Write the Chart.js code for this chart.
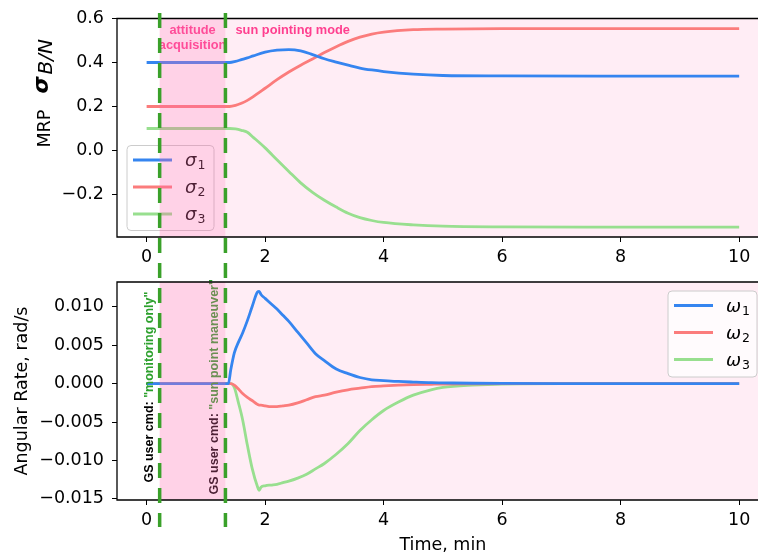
<!DOCTYPE html>
<html><head><meta charset="utf-8">
<script src="https://cdn.jsdelivr.net/npm/chart.js@4/dist/chart.umd.min.js"></script>
<style>
html,body{margin:0;padding:0;background:#fff;width:758px;height:558px;overflow:hidden}
canvas{position:absolute;left:0;top:0}
#c1{z-index:1}#c2{z-index:2}
</style></head><body>
<canvas id="c1" width="758" height="558"></canvas>
<canvas id="c2" width="758" height="558"></canvas>
<script>
// ---------- data ----------
const timeTop = [0, 1.4, 1.5, 1.6, 1.7, 1.8, 2.0, 2.2, 2.4, 2.6, 2.8, 3.0, 3.2, 3.4, 3.6, 3.8, 4.0, 4.5, 5.0, 6.0, 8.0, 10.0];
const sigma1 = [0.4, 0.4, 0.405, 0.413, 0.421, 0.430, 0.447, 0.456, 0.459, 0.453, 0.436, 0.417, 0.402, 0.388, 0.375, 0.366, 0.359, 0.347, 0.341, 0.339, 0.338, 0.338];
const sigma2 = [0.2, 0.2, 0.205, 0.215, 0.228, 0.245, 0.283, 0.322, 0.357, 0.388, 0.416, 0.445, 0.472, 0.496, 0.515, 0.529, 0.538, 0.549, 0.552, 0.554, 0.554, 0.554];
const sigma3 = [0.1, 0.1, 0.098, 0.092, 0.083, 0.060, 0.012, -0.042, -0.095, -0.147, -0.190, -0.226, -0.257, -0.285, -0.305, -0.318, -0.327, -0.338, -0.344, -0.347, -0.348, -0.348];

const timeBottom = [0, 1.38, 1.42, 1.48, 1.55, 1.62, 1.7, 1.78, 1.87, 1.9, 1.93, 2.0, 2.1, 2.2, 2.3, 2.4, 2.55, 2.7, 2.85, 3.0, 3.2, 3.4, 3.6, 3.8, 4.0, 4.25, 4.5, 4.8, 5.0, 5.5, 6.0, 7, 8, 10];
const omega1 = [0, 0, 0.0018, 0.0040, 0.0054, 0.0066, 0.0082, 0.0100, 0.0119, 0.0120, 0.0116, 0.0111, 0.0104, 0.0097, 0.0089, 0.0081, 0.0067, 0.0053, 0.0039, 0.0030, 0.0019, 0.0013, 0.0008, 0.0005, 0.0004, 0.00028, 0.0002, 0.00012, 0.0001, 0.00005, 0.00002, 0, 0, 0];
const omega2 = [0, 0, 0, -0.0002, -0.0007, -0.0013, -0.0018, -0.0022, -0.0027, -0.0028, -0.0028, -0.0029, -0.0030, -0.0030, -0.0029, -0.0028, -0.0025, -0.0021, -0.0017, -0.0015, -0.0011, -0.0008, -0.0006, -0.0004, -0.0003, -0.0002, -0.00013, -0.00008, -0.00005, -0.00002, 0, 0, 0, 0];
const omega3 = [0, 0, 0, -0.0005, -0.0025, -0.0047, -0.0080, -0.0110, -0.0134, -0.0139, -0.0135, -0.0133, -0.0132, -0.0131, -0.0129, -0.0127, -0.0123, -0.0118, -0.0111, -0.0104, -0.0092, -0.0078, -0.0061, -0.0047, -0.0035, -0.0024, -0.0015, -0.0008, -0.0005, -0.0002, -0.00005, 0, 0, 0];

const xTicks = [0, 2, 4, 6, 8, 10];
const topYTicks = [-0.2, 0.0, 0.2, 0.4, 0.6];
const bottomYTicks = [-0.015, -0.010, -0.005, 0.000, 0.005, 0.010];
const phaseTimes = [0.22, 1.33];
const phaseLabels = [['attitude', 'acquisition'], ['sun pointing mode']];
const cmdPrefix = 'GS user cmd: ';
const cmdTexts = ['"monitoring only"', '"sun point maneuver"'];
const topSeriesSymbol = 'σ', bottomSeriesSymbol = 'ω';
const seriesSubs = ['1', '2', '3'];
const xTitle = 'Time, min';
const topYTitle = ['MRP', 'σ', 'B/N'];
const bottomYTitle = 'Angular Rate, rad/s';

// ---------- style ----------
const colors = ['#3585f0', '#fb7c7c', '#98df8f'];
const greenDash = '#3aa12a';
const phasePink = '#ff3f8f';
const TICK_FONT = {family: 'DejaVu Sans', size: 17.5};
const fmtNum = (v, d) => (v < -1e-12 ? '\u2212' : '') + Math.abs(v).toFixed(d);

function pts(t, v) { return t.map((x, i) => ({x: x, y: v[i]})); }

function xScaleOpts() {
  return {
    type: 'linear', min: -0.5, max: 10.318,
    afterBuildTicks: s => { s.ticks = xTicks.map(v => ({value: v})); },
    afterFit: s => { s.height = 30; },
    grid: {drawOnChartArea: false, drawTicks: true, tickLength: 5, color: '#000', lineWidth: 1},
    border: {display: false},
    ticks: {font: TICK_FONT, color: '#000', padding: 5, autoSkip: false, maxRotation: 0, callback: v => String(v)}
  };
}
function yScaleOpts(min, max, ticks, dec) {
  return {
    type: 'linear', min: min, max: max,
    afterBuildTicks: s => { s.ticks = ticks.map(v => ({value: v})); },
    afterFit: s => { s.width = 117; },
    grid: {drawOnChartArea: false, drawTicks: true, tickLength: 5, color: '#000', lineWidth: 1},
    border: {display: false},
    ticks: {font: TICK_FONT, color: '#000', padding: 8, autoSkip: false, callback: v => fmtNum(v, dec)}
  };
}

function clipArea(ctx, a) { ctx.beginPath(); ctx.rect(a.left, a.top, a.right - a.left, a.bottom - a.top); ctx.clip(); }
function drawLightShading(chart) {
  const {ctx, chartArea: a, scales: {x}} = chart;
  const x1 = x.getPixelForValue(phaseTimes[1]);
  ctx.save(); clipArea(ctx, a);
  ctx.fillStyle = 'rgba(255,105,170,0.12)';
  ctx.fillRect(x1, a.top, a.right - x1, a.bottom - a.top);
  ctx.restore();
}
function drawDarkShading(chart) {
  const {ctx, chartArea: a, scales: {x}} = chart;
  const x0 = x.getPixelForValue(phaseTimes[0]), x1 = x.getPixelForValue(phaseTimes[1]);
  ctx.save(); clipArea(ctx, a);
  ctx.fillStyle = 'rgba(255,105,175,0.30)';
  ctx.fillRect(x0, a.top, x1 - x0, a.bottom - a.top);
  ctx.restore();
}
function drawSpines(chart) {
  const {ctx, chartArea: a} = chart;
  ctx.save();
  ctx.strokeStyle = '#000'; ctx.lineWidth = 1.3;
  ctx.beginPath();
  ctx.moveTo(a.right + 2, a.top); ctx.lineTo(a.left, a.top); ctx.lineTo(a.left, a.bottom); ctx.lineTo(a.right + 2, a.bottom);
  ctx.stroke();
  ctx.restore();
}
function roundRect(ctx, x, y, w, h, r) {
  ctx.beginPath();
  ctx.moveTo(x + r, y); ctx.lineTo(x + w - r, y); ctx.quadraticCurveTo(x + w, y, x + w, y + r);
  ctx.lineTo(x + w, y + h - r); ctx.quadraticCurveTo(x + w, y + h, x + w - r, y + h);
  ctx.lineTo(x + r, y + h); ctx.quadraticCurveTo(x, y + h, x, y + h - r);
  ctx.lineTo(x, y + r); ctx.quadraticCurveTo(x, y, x + r, y); ctx.closePath();
}
function drawLegend(chart, bx, by, bw, bh, symbol) {
  const ctx = chart.ctx;
  ctx.save();
  roundRect(ctx, bx, by, bw, bh, 4);
  ctx.fillStyle = 'rgba(255,255,255,0.8)'; ctx.fill();
  ctx.strokeStyle = '#cccccc'; ctx.lineWidth = 1; ctx.stroke();
  chart.data.datasets.forEach((ds, i) => {
    const ly = by + 14.5 + i * 27;
    ctx.strokeStyle = ds.borderColor; ctx.lineWidth = 2.8;
    ctx.beginPath(); ctx.moveTo(bx + 6, ly); ctx.lineTo(bx + 45, ly); ctx.stroke();
    ctx.fillStyle = '#000'; ctx.textBaseline = 'alphabetic'; ctx.textAlign = 'left';
    ctx.font = 'italic 18px "DejaVu Sans"';
    ctx.fillText(symbol, bx + 58, ly + 6);
    const w = ctx.measureText(symbol).width;
    ctx.font = '12.5px "DejaVu Sans"';
    ctx.fillText(seriesSubs[i], bx + 58 + w + 1, ly + 9);
  });
  ctx.restore();
}

// ---------- top chart ----------
const topPlugin = {
  id: 'topDecor',
  beforeDatasetsDraw(chart) { drawLightShading(chart); },
  afterDatasetsDraw(chart) {
    const {ctx, chartArea: a, scales: {x}} = chart;
    drawLegend(chart, a.left + 10, a.top + 127, 87, 85, topSeriesSymbol);
    ctx.save();
    ctx.fillStyle = phasePink; ctx.font = 'bold 12.8px "Liberation Sans"';
    ctx.textBaseline = 'middle'; ctx.textAlign = 'center';
    const xm = x.getPixelForValue((phaseTimes[0] + phaseTimes[1]) / 2);
    ctx.fillText(phaseLabels[0][0], xm, a.top + 12);
    ctx.fillText(phaseLabels[0][1], xm, a.top + 27);
    ctx.textAlign = 'left';
    ctx.fillText(phaseLabels[1][0], x.getPixelForValue(1.5), a.top + 12);
    ctx.restore();
    drawDarkShading(chart);
  },
  afterDraw(chart) {
    drawSpines(chart);
    const ctx = chart.ctx, a = chart.chartArea;
    ctx.save();
    ctx.translate(50, a.top + 129); ctx.rotate(-Math.PI / 2);
    ctx.fillStyle = '#000'; ctx.textBaseline = 'alphabetic'; ctx.textAlign = 'left';
    ctx.font = '17.5px "DejaVu Sans"';
    ctx.fillText(topYTitle[0], 0, 0);
    ctx.font = 'italic bold 22px "DejaVu Sans"';
    ctx.fillText(topYTitle[1], 54, -2);
    ctx.font = 'italic 20px "DejaVu Sans"';
    ctx.fillText(topYTitle[2], 73, 2);
    ctx.restore();
  }
};
new Chart(document.getElementById('c1'), {
  type: 'line',
  data: {datasets: [sigma1, sigma2, sigma3].map((s, i) => ({
    label: topSeriesSymbol + seriesSubs[i], data: pts(timeTop, s), borderColor: colors[i],
    borderWidth: 2.8, pointRadius: 0, fill: false, cubicInterpolationMode: 'monotone'
  }))},
  options: {
    responsive: false, animation: false, devicePixelRatio: 1,
    layout: {padding: {left: 0, right: 0, top: 16, bottom: 291}},
    plugins: {legend: {display: false}, tooltip: {enabled: false}},
    scales: {x: xScaleOpts(), y: yScaleOpts(-0.393, 0.6, topYTicks, 1)}
  },
  plugins: [topPlugin]
});

// ---------- bottom chart ----------
const bottomPlugin = {
  id: 'bottomDecor',
  beforeDatasetsDraw(chart) { drawLightShading(chart); },
  afterDatasetsDraw(chart) {
    const {ctx, chartArea: a, scales: {x, y}} = chart;
    drawLegend(chart, a.left + 551, a.top + 9, 89, 86, bottomSeriesSymbol);
    const anchors = [[0.05, -0.01288], [1.145, -0.01443]];
    ctx.save();
    ctx.font = 'bold 12.5px "Liberation Sans"';
    anchors.forEach((p, i) => {
      ctx.save();
      ctx.translate(x.getPixelForValue(p[0]), y.getPixelForValue(p[1]));
      ctx.rotate(-Math.PI / 2);
      ctx.textBaseline = 'middle'; ctx.textAlign = 'left';
      ctx.fillStyle = '#000'; ctx.fillText(cmdPrefix, 0, 0);
      const w = ctx.measureText(cmdPrefix).width;
      ctx.fillStyle = '#2ca02c'; ctx.fillText(cmdTexts[i], w, 0);
      ctx.restore();
    });
    ctx.restore();
    drawDarkShading(chart);
  },
  afterDraw(chart) {
    drawSpines(chart);
    const {ctx, chartArea: a, scales: {x}} = chart;
    ctx.save();
    ctx.fillStyle = '#000'; ctx.font = '17.5px "DejaVu Sans"';
    ctx.textAlign = 'center'; ctx.textBaseline = 'middle';
    ctx.fillText(xTitle, x.getPixelForValue(5), 545);
    ctx.translate(22, (a.top + a.bottom) / 2); ctx.rotate(-Math.PI / 2);
    ctx.fillText(bottomYTitle, 0, 0);
    ctx.restore();
    // dashed phase boundaries spanning both panels
    ctx.save();
    ctx.strokeStyle = greenDash; ctx.lineWidth = 3.5; ctx.setLineDash([15, 10]);
    phaseTimes.forEach(t => {
      const px = x.getPixelForValue(t);
      ctx.beginPath(); ctx.moveTo(px, 13); ctx.lineTo(px, 527); ctx.stroke();
    });
    ctx.restore();
  }
};
new Chart(document.getElementById('c2'), {
  type: 'line',
  data: {datasets: [omega1, omega2, omega3].map((s, i) => ({
    label: bottomSeriesSymbol + seriesSubs[i], data: pts(timeBottom, s), borderColor: colors[i],
    borderWidth: 2.8, pointRadius: 0, fill: false, cubicInterpolationMode: 'monotone'
  }))},
  options: {
    responsive: false, animation: false, devicePixelRatio: 1,
    layout: {padding: {left: 0, right: 0, top: 282, bottom: 28}},
    plugins: {legend: {display: false}, tooltip: {enabled: false}},
    scales: {x: xScaleOpts(), y: yScaleOpts(-0.01515, 0.01323, bottomYTicks, 3)}
  },
  plugins: [bottomPlugin]
});
</script>
</body></html>
